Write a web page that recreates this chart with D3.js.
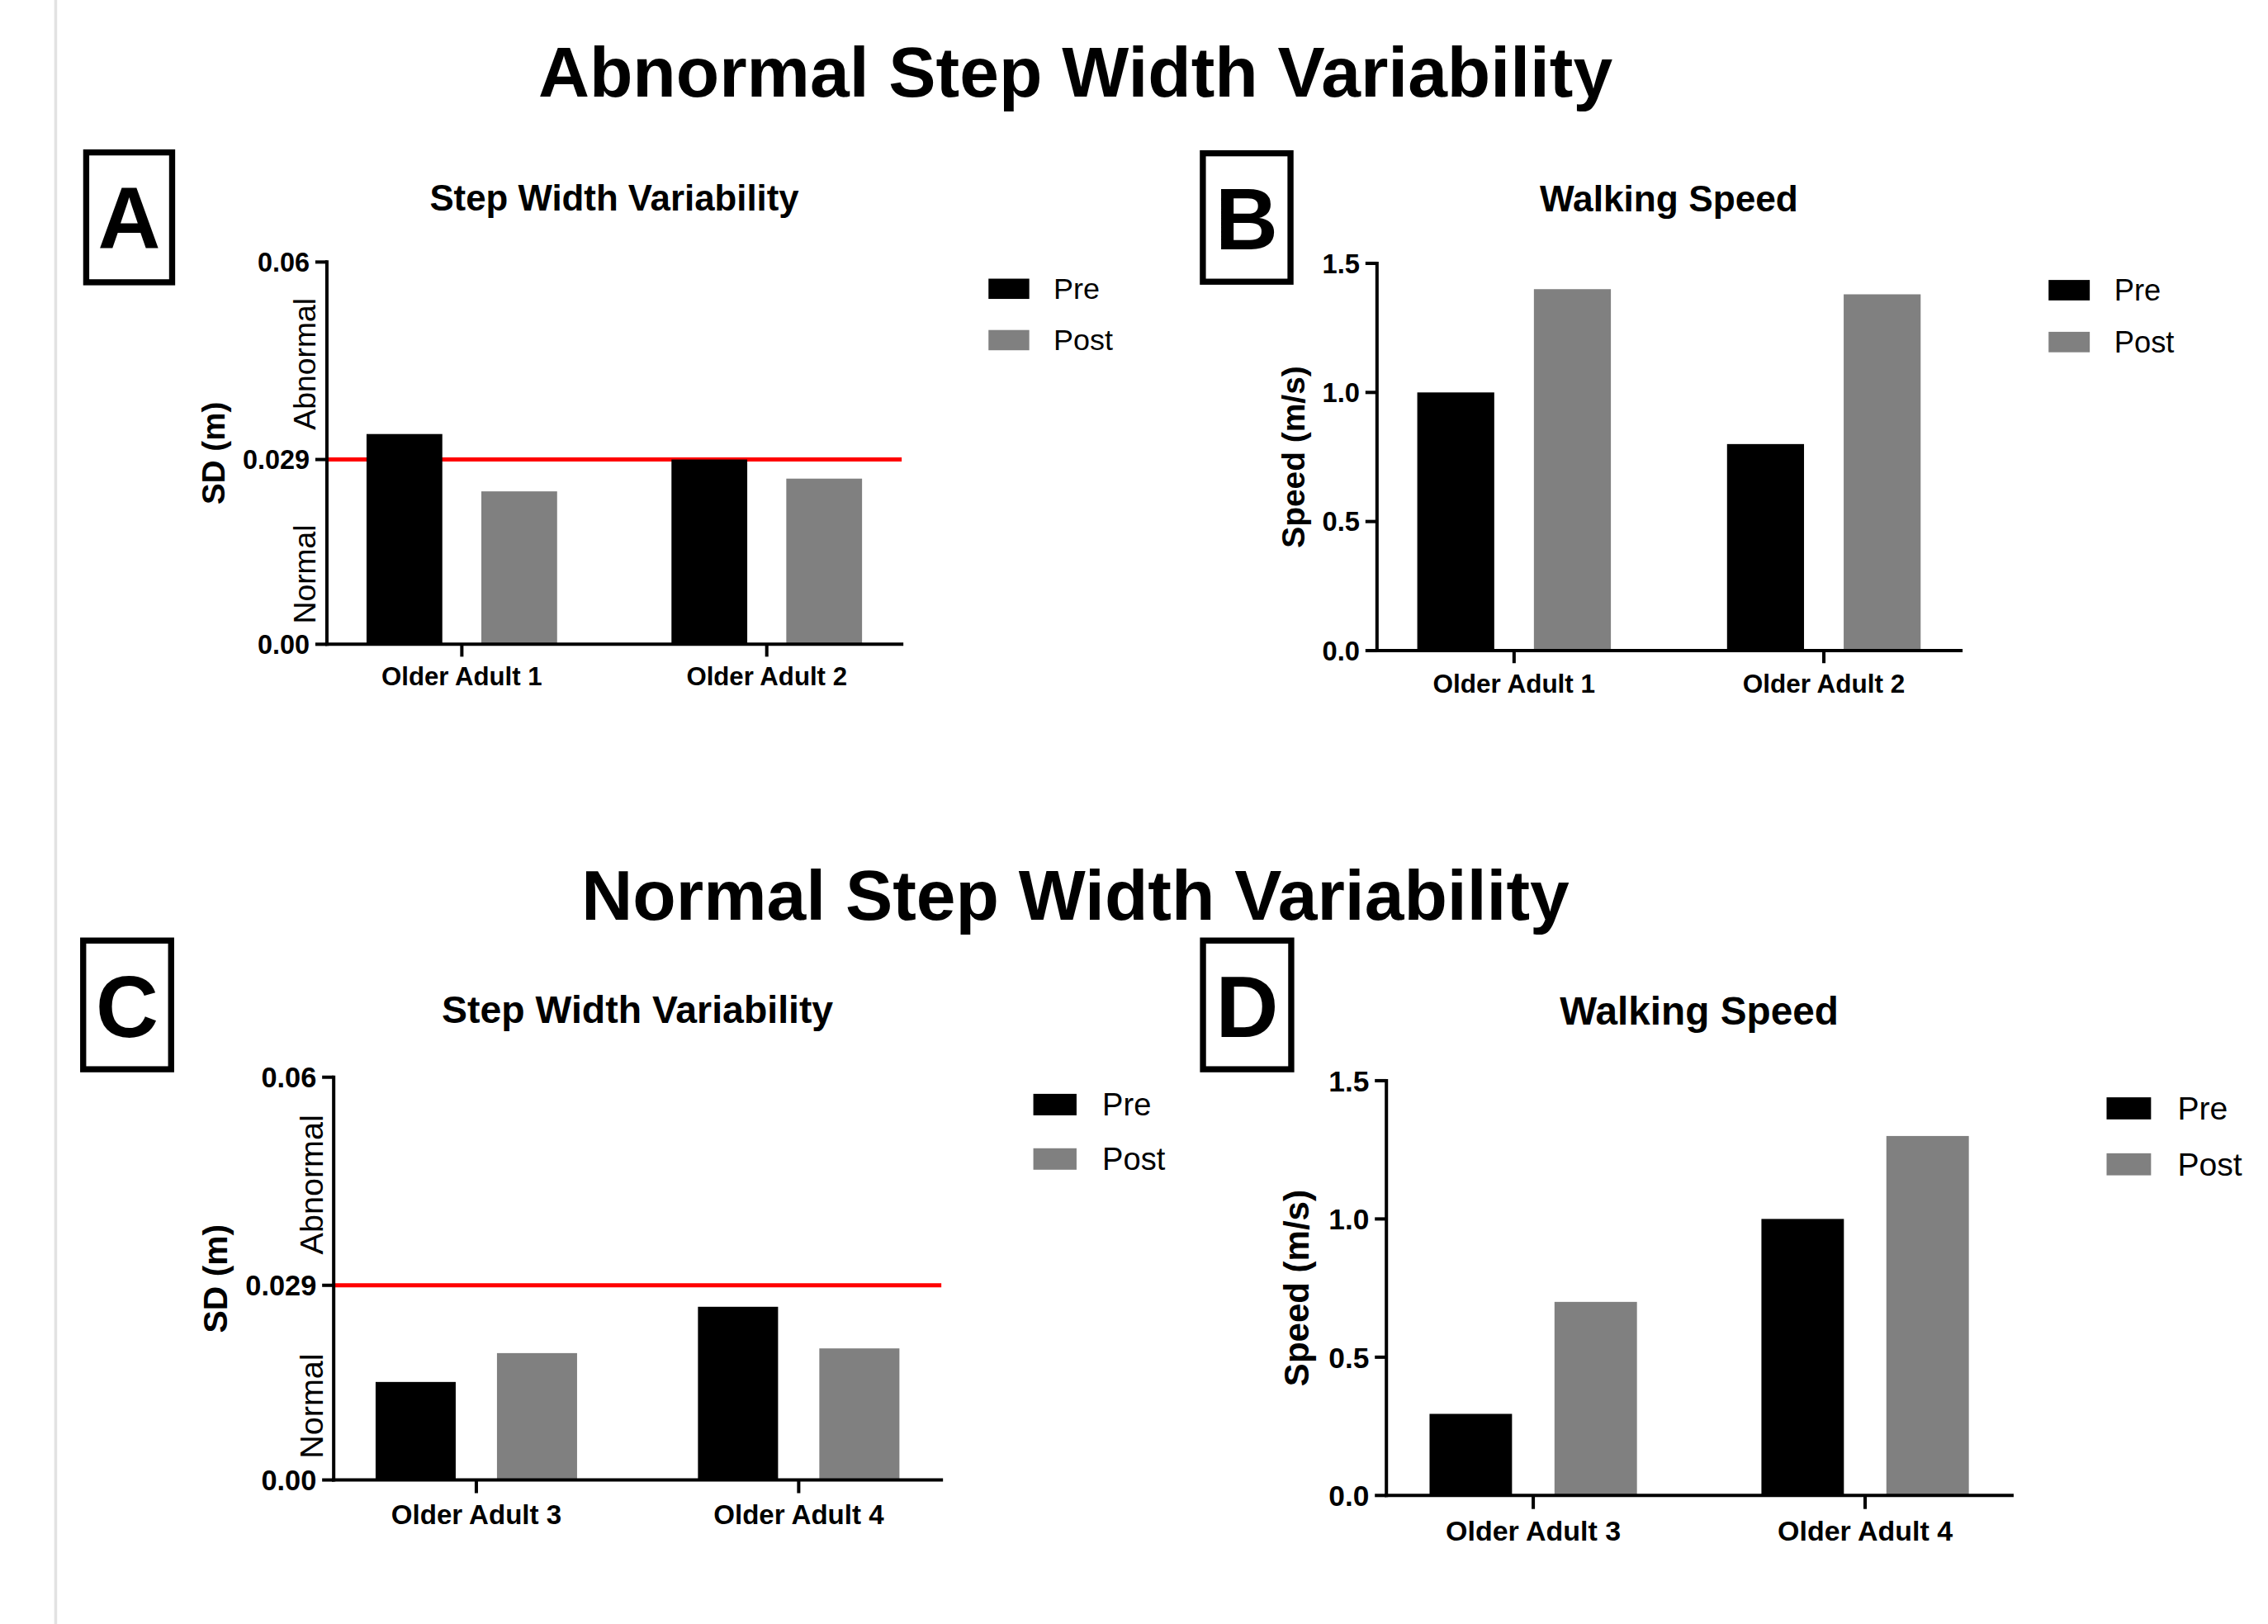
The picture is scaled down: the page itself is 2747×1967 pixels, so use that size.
<!DOCTYPE html>
<html>
<head>
<meta charset="utf-8">
<script src="https://cdn.jsdelivr.net/npm/d3@7"></script>
<style>
  html, body { margin: 0; padding: 0; background: #fff; }
  svg { display: block; font-family: "Liberation Sans", Arial, Helvetica, sans-serif; }
</style>
</head>
<body>
<script>
// ---- data ----
var groups = ["Pre", "Post"];
var groupColors = ["#000000", "#808080"];

var catsTop = ["Older Adult 1", "Older Adult 2"];
var catsBottom = ["Older Adult 3", "Older Adult 4"];

var swvPreA = [0.033, 0.029];
var swvPostA = [0.024, 0.026];
var speedPreB = [1.0, 0.8];
var speedPostB = [1.40, 1.38];
var swvPreC = [0.0146, 0.0258];
var swvPostC = [0.0189, 0.0196];
var speedPreD = [0.295, 1.0];
var speedPostD = [0.70, 1.30];

var swvTicks = [0, 0.029, 0.06];
var swvTickLabels = ["0.00", "0.029", "0.06"];
var speedTicks = [0, 0.5, 1.0, 1.5];
var speedTickLabels = ["0.0", "0.5", "1.0", "1.5"];

var swvCutoff = 0.029;
var zoneLabels = ["Abnormal", "Normal"];
var zoneValues = [0.044, 0.011];

var mainTitles = ["Abnormal Step Width Variability", "Normal Step Width Variability"];

// ---- layout (drawn in 1568x1123 units, scaled up by the viewBox) ----
var W = 1568, H = 1123;

var svg = d3.select("body").append("svg")
  .attr("width", 2747)
  .attr("height", 1967)
  .attr("viewBox", "0 0 " + W + " " + H)
  .attr("preserveAspectRatio", "none");

svg.append("rect").attr("width", W).attr("height", H).attr("fill", "#fff");

// thin page edge on the left
svg.append("line")
  .attr("x1", 38.5).attr("x2", 38.5)
  .attr("y1", 0).attr("y2", H)
  .attr("stroke", "#e2e2e2")
  .attr("stroke-width", 2);

svg.selectAll("text.main-title")
  .data(mainTitles)
  .enter().append("text")
  .classed("main-title", true)
  .attr("x", 743.5)
  .attr("y", (d, i) => i === 0 ? 66.6 : 636)
  .attr("text-anchor", "middle")
  .attr("font-size", 49)
  .attr("font-weight", "bold")
  .text(d => d);

var panels = [
  { letter: "A", box: [59.6, 105.4, 59.4, 89.8], title: "Step Width Variability",
    cats: catsTop, pre: swvPreA, post: swvPostA, domain: [0, 0.06],
    ticks: swvTicks, tickLabels: swvTickLabels, yTitle: "SD (m)", cutoff: true,
    left: 226, right: 623.4, top: 181.2, bottom: 445.5, s: 1.0, yTitleOff: 70.9 },
  { letter: "B", box: [831.6, 106, 60.6, 88.8], title: "Walking Speed",
    cats: catsTop, pre: speedPreB, post: speedPostB, domain: [0, 1.5],
    ticks: speedTicks, tickLabels: speedTickLabels, yTitle: "Speed (m/s)", cutoff: false,
    left: 952, right: 1355.7, top: 182.1, bottom: 449.9, s: 1.01, yTitleOff: 50.2 },
  { letter: "C", box: [57.5, 650.4, 60.8, 89], title: "Step Width Variability",
    cats: catsBottom, pre: swvPreC, post: swvPostC, domain: [0, 0.06],
    ticks: swvTicks, tickLabels: swvTickLabels, yTitle: "SD (m)", cutoff: true,
    left: 230.7, right: 650.8, top: 744.9, bottom: 1023.4, s: 1.06, yTitleOff: 74 },
  { letter: "D", box: [831.7, 650.4, 61, 89], title: "Walking Speed",
    cats: catsBottom, pre: speedPreD, post: speedPostD, domain: [0, 1.5],
    ticks: speedTicks, tickLabels: speedTickLabels, yTitle: "Speed (m/s)", cutoff: false,
    left: 958.5, right: 1391, top: 747.3, bottom: 1034.1, s: 1.09, yTitleOff: 53.5 }
];

var color = d3.scaleOrdinal().domain(groups).range(groupColors);

function drawPanel(p) {
  var s = p.s;
  var g = svg.append("g").attr("class", "panel-" + p.letter);

  var y = d3.scaleLinear().domain(p.domain).range([p.bottom, p.top]);
  var x0 = d3.scaleBand().domain(p.cats).range([p.left, p.right])
    .paddingInner(0.375).paddingOuter(0.13);
  var x1 = d3.scaleBand().domain(groups).range([0, x0.bandwidth()]).paddingInner(0.34);

  // letter box
  g.append("rect")
    .attr("x", p.box[0]).attr("y", p.box[1])
    .attr("width", p.box[2]).attr("height", p.box[3])
    .attr("fill", "none").attr("stroke", "#000").attr("stroke-width", 4.2);
  g.append("text")
    .attr("x", p.box[0] + p.box[2] / 2)
    .attr("y", p.box[1] - 2.1 + 68.5)
    .attr("text-anchor", "middle")
    .attr("font-size", 60).attr("font-weight", "bold")
    .text(p.letter);

  // panel title
  g.append("text")
    .attr("x", (p.left + p.right) / 2)
    .attr("y", p.top - 35.5 * s)
    .attr("text-anchor", "middle")
    .attr("font-size", 25 * s).attr("font-weight", "bold")
    .text(p.title);

  // cutoff line goes under the bars
  if (p.cutoff) {
    g.append("line")
      .attr("x1", p.left).attr("x2", p.right)
      .attr("y1", y(swvCutoff)).attr("y2", y(swvCutoff))
      .attr("stroke", "#ff0000").attr("stroke-width", 2.9);
  }

  // bars
  var rows = p.cats.map((c, i) => ({ cat: c, values: [p.pre[i], p.post[i]] }));
  g.append("g")
    .selectAll("g")
    .data(rows)
    .enter().append("g")
    .attr("transform", d => "translate(" + x0(d.cat) + ",0)")
    .selectAll("rect")
    .data(d => d.values.map((v, j) => ({ key: groups[j], v: v })))
    .enter().append("rect")
    .attr("x", d => x1(d.key))
    .attr("width", x1.bandwidth())
    .attr("y", d => y(d.v))
    .attr("height", d => y(0) - y(d.v))
    .attr("fill", d => color(d.key));

  // y axis
  var yAxis = d3.axisLeft(y)
    .tickValues(p.ticks)
    .tickFormat((d, i) => p.tickLabels[i])
    .tickSize(8)
    .tickSizeOuter(0)
    .tickPadding(3.9)
    .offset(0);
  var yg = g.append("g").attr("transform", "translate(" + p.left + ",0)").call(yAxis);
  yg.select(".domain").attr("stroke-width", 2.3).attr("stroke-linecap", "square");
  yg.selectAll(".tick line").attr("stroke-width", 2.3);
  yg.selectAll(".tick text")
    .attr("font-family", null)
    .attr("font-size", 18.5 * s)
    .attr("font-weight", "bold")
    .attr("fill", "#000")
    .attr("dy", "0.36em");

  // x axis
  var xAxis = d3.axisBottom(x0).tickSize(8.6 * s).tickSizeOuter(0).tickPadding(7.4 * s).offset(0);
  var xg = g.append("g").attr("transform", "translate(0," + p.bottom + ")").call(xAxis);
  xg.select(".domain").attr("stroke-width", 2.3).attr("stroke-linecap", "square");
  xg.selectAll(".tick line").attr("stroke-width", 2.3);
  xg.selectAll(".tick text")
    .attr("font-family", null)
    .attr("font-size", 17.8 * s)
    .attr("font-weight", "bold")
    .attr("fill", "#000");

  // y axis title
  g.append("text")
    .attr("transform", "translate(" + (p.left - p.yTitleOff) + "," + ((p.top + p.bottom) / 2) + ") rotate(-90)")
    .attr("text-anchor", "middle")
    .attr("font-size", 22 * s)
    .attr("font-weight", "bold")
    .text(p.yTitle);

  // zone labels on the step width panels
  if (p.cutoff) {
    g.selectAll("text.zone")
      .data(zoneLabels)
      .enter().append("text")
      .classed("zone", true)
      .attr("transform", (d, i) => "translate(" + (p.left - 7.7) + "," + y(zoneValues[i]) + ") rotate(-90)")
      .attr("text-anchor", "middle")
      .attr("font-size", 21.3 * s)
      .text(d => d);
  }

  // legend
  var lx = p.right + 60 * s;
  var ly = p.top + 11.5;
  var bw = 28.2 * s, bh = 14 * s;
  var leg = g.append("g").selectAll("g")
    .data(groups)
    .enter().append("g")
    .attr("transform", (d, i) => "translate(" + lx + "," + (ly + i * 35.5 * s) + ")");
  leg.append("rect")
    .attr("width", bw).attr("height", bh)
    .attr("fill", d => color(d));
  leg.append("text")
    .attr("x", 45 * s)
    .attr("y", bh)
    .attr("font-size", 20.5 * s)
    .text(d => d);
}

panels.forEach(drawPanel);
</script>
</body>
</html>
